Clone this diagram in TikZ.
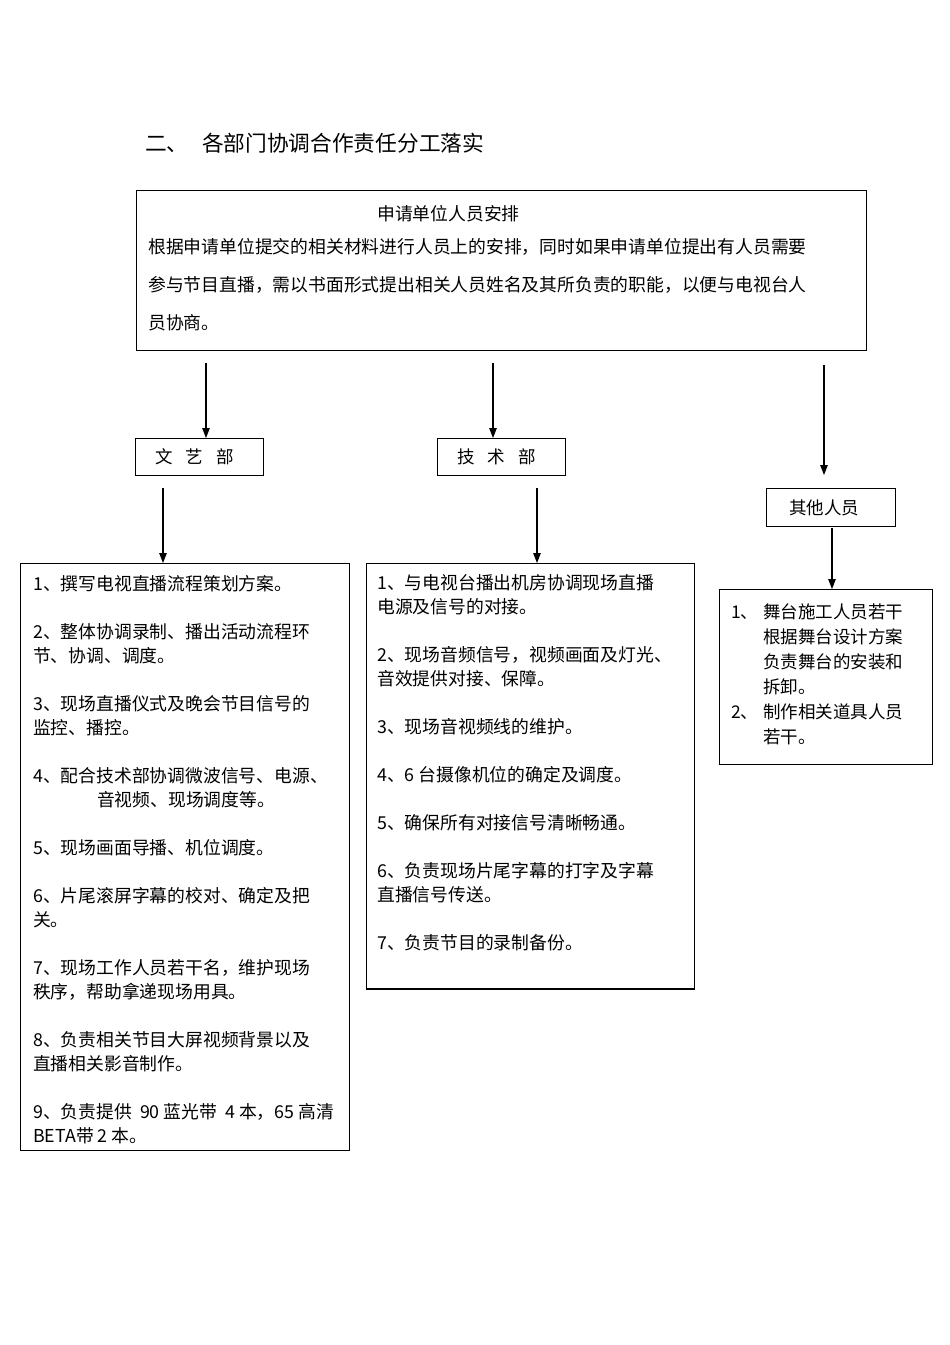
\documentclass[tikz,border=0pt]{standalone}
\usepackage{fontspec}
\setmainfont{Noto Sans CJK SC}
\usetikzlibrary{arrows.meta}
\begin{document}
\begin{tikzpicture}[x=1pt,y=-1pt,
  box/.style={draw=black,line width=0.8pt,inner sep=0pt,anchor=north west},
  dept/.style={box,minimum width=128pt,minimum height=37pt,font=\fontsize{17.5pt}{20pt}\selectfont},
  txt/.style={inner sep=0pt,anchor=north west,align=left,font=\fontsize{17.8pt}{24pt}\selectfont},
  arr/.style={line width=1.1pt,-{Triangle[length=10pt,width=7.5pt]}}]
\path[use as bounding box] (0,0) rectangle (950,1345);

% title
\node[anchor=west,inner sep=0pt,font=\fontsize{21.7pt}{26pt}\selectfont] (title) at (145,143)
  {二、\hspace{13.5pt}各部门协调合作责任分工落实};

% top box
\node[box,minimum width=730pt,minimum height=160pt] (top) at (136,190) {};
\node[txt] (toptitle) at (377,205.5) {申请单位人员安排};
\node[txt,font=\fontsize{17.8pt}{38pt}\selectfont] (toptext) at (148,238.5)
  {根据申请单位提交的相关材料进行人员上的安排，同时如果申请单位提出有人员需要\\
   参与节目直播，需以书面形式提出相关人员姓名及其所负责的职能，以便与电视台人\\
   员协商。};

% departments
\node[dept] (wy) at (135,438) {文\hspace{13pt}艺\hspace{13pt}部\kern10pt\relax};
\node[dept] (js) at (437,438) {技\hspace{13pt}术\hspace{13pt}部\kern10pt\relax};
\node[dept,minimum width=129pt,minimum height=38pt] (qt) at (766,488) {其他人员\kern13pt\relax};

% detail boxes
\node[box,minimum width=329pt,minimum height=587pt] (L) at (20,563) {};
\node[box,minimum width=328pt,minimum height=425pt] (M) at (366,563) {};
\draw[line width=1.8pt] (M.south west) -- (M.south east);
\node[box,minimum width=213pt,minimum height=175pt] (R) at (719,589) {};

\node[txt] (Lt) at (33,575)
  {1、撰写电视直播流程策划方案。\\[24pt]
   2、整体协调录制、播出活动流程环\\
   节、协调、调度。\\[24pt]
   3、现场直播仪式及晚会节目信号的\\
   监控、播控。\\[24pt]
   4、配合技术部协调微波信号、电源、\\
   \hspace*{64pt}音视频、现场调度等。\\[24pt]
   5、现场画面导播、机位调度。\\[24pt]
   6、片尾滚屏字幕的校对、确定及把\\
   关。\\[24pt]
   7、现场工作人员若干名，维护现场\\
   秩序，帮助拿递现场用具。\\[24pt]
   8、负责相关节目大屏视频背景以及\\
   直播相关影音制作。\\[24pt]
   9、负责提供\ \ 90 蓝光带\ \ 4 本，65 高清\\
   BETA带 2 本。};

\node[txt] (Mt) at (377,574)
  {1、与电视台播出机房协调现场直播\\
   电源及信号的对接。\\[24pt]
   2、现场音频信号，视频画面及灯光、\\
   音效提供对接、保障。\\[24pt]
   3、现场音视频线的维护。\\[24pt]
   4、6 台摄像机位的确定及调度。\\[24pt]
   5、确保所有对接信号清晰畅通。\\[24pt]
   6、负责现场片尾字幕的打字及字幕\\
   直播信号传送。\\[24pt]
   7、负责节目的录制备份。};

\node[txt,font=\fontsize{17.5pt}{25pt}\selectfont] (Rt) at (731,603.5)
  {\makebox[32pt][l]{1、}舞台施工人员若干\\
   \hspace*{32pt}根据舞台设计方案\\
   \hspace*{32pt}负责舞台的安装和\\
   \hspace*{32pt}拆卸。\\
   \makebox[32pt][l]{2、}制作相关道具人员\\
   \hspace*{32pt}若干。};

% connectors
\coordinate (a1) at (206,363);
\coordinate (a2) at (493,363);
\coordinate (a3) at (824,365);
\coordinate (b1) at (163,488);
\coordinate (b2) at (537,488);
\coordinate (b3) at (832,528);
\draw[arr] (a1) -- (a1 |- wy.north);
\draw[arr] (a2) -- (a2 |- js.north);
\draw[arr,shorten >=13pt] (a3) -- (a3 |- qt.north);
\draw[arr] (b1) -- (b1 |- L.north);
\draw[arr] (b2) -- (b2 |- M.north);
\draw[arr] (b3) -- (b3 |- R.north);
\end{tikzpicture}
\end{document}
